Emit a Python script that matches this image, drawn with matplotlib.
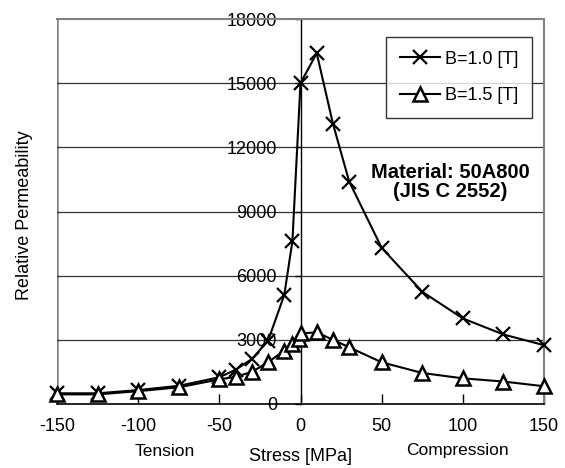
import matplotlib
matplotlib.use("Agg")
import matplotlib.pyplot as plt

plt.rcParams['font.family'] = ['Liberation Sans', 'DejaVu Sans']

# Data
stress_b10 = [-150, -125, -100, -75, -50, -40, -30, -20, -10, -5, 0, 10, 20, 30, 50, 75, 100, 125, 150]
perm_b10 = [500, 500, 650, 850, 1250, 1600, 2100, 2950, 5100, 7600, 15000, 16400, 13100, 10400, 7300, 5250, 4000, 3250, 2750]
stress_b15 = [-150, -125, -100, -75, -50, -40, -30, -20, -10, -5, -1, 0, 10, 20, 30, 50, 75, 100, 125, 150]
perm_b15 = [450, 450, 600, 780, 1150, 1270, 1500, 1950, 2500, 2800, 3050, 3300, 3350, 3000, 2650, 1950, 1450, 1200, 1050, 830]
xticks = [-150, -100, -50, 0, 50, 100, 150]
yticks = [0, 3000, 6000, 9000, 12000, 15000, 18000]
labels = ['B=1.0 [T]', 'B=1.5 [T]']

FS = 13
fig = plt.figure(figsize=(5.65, 4.68), dpi=100)
ax = fig.add_axes([57/565, 1-404/468, (544-57)/565, (404-19)/468])
ax.set_xlim(-150, 150)
ax.set_ylim(0, 18000)

for y in yticks[1:-1]:
    ax.axhline(y, color='#333333', lw=0.9, zorder=1)

ax.plot(stress_b10, perm_b10, color='black', lw=1.5, marker='x', ms=10, mew=1.6,
        label=labels[0], zorder=3, clip_on=False)
ax.plot(stress_b15, perm_b15, color='black', lw=1.5, marker='^', ms=10, mew=1.8,
        mfc='white', label=labels[1], zorder=3, clip_on=False)

# frame
for s in ['top', 'right']:
    ax.spines[s].set_color('#808080')
    ax.spines[s].set_linewidth(1.5)
ax.spines['left'].set_position(('data', 0))
ax.spines['left'].set_color('black')
ax.spines['left'].set_linewidth(1.0)
ax.spines['bottom'].set_color('black')
ax.spines['bottom'].set_linewidth(1.2)
ax.axvline(-150, color='#808080', lw=1.8, zorder=0)

ax.set_xticks(xticks)
ax.set_xticklabels([str(v) for v in xticks], fontsize=FS)
ax.tick_params(axis='x', direction='in', length=7, width=1, pad=10)
ax.set_yticks(yticks)
ax.set_yticklabels([str(v) for v in yticks], fontsize=FS)
ax.tick_params(axis='y', direction='out', length=4, width=1, pad=13)

ax.set_xlabel('Stress [MPa]', fontsize=13)
ax.xaxis.set_label_coords(0.5, -0.115)
fig.text(25/565, 1-215/468, 'Relative Permeability', rotation=90, fontsize=13,
         ha='center', va='center')

fig.text(165/565, 1-451/468, 'Tension', fontsize=12.5, ha='center', va='center')
fig.text(457/565, 1-451/468, 'Compression', fontsize=12.5, ha='center', va='center')

fig.text(450/565, 1-182/468, 'Material: 50A800\n(JIS C 2552)', ha='center', va='center',
         fontsize=14.5, fontweight='bold', linespacing=1.0)

leg = ax.legend(loc='upper right', bbox_to_anchor=(532/565, 1-37/468), bbox_transform=fig.transFigure,
                fontsize=FS, frameon=True, fancybox=False, edgecolor='black', borderaxespad=0,
                handlelength=2.2, borderpad=0.75, labelspacing=1.1, handletextpad=0.3)
leg.get_frame().set_linewidth(1.0)

fig.savefig('out.png', dpi=100)
